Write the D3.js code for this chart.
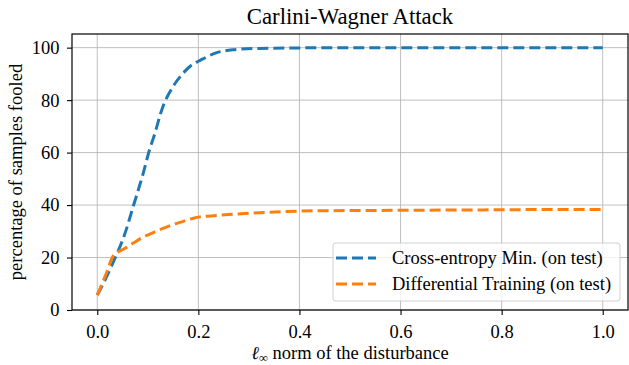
<!DOCTYPE html>
<html>
<head>
<meta charset="utf-8">
<script src="https://cdn.jsdelivr.net/npm/d3@7"></script>
<style>
  body { margin: 0; background: #fff; }
</style>
</head>
<body>
<div id="graf"></div>
<script>
// I. Datos
xVals = [0, 0.018, 0.031, 0.055, 0.071, 0.091, 0.104, 0.111, 0.130, 0.150, 0.170, 0.190, 0.200, 0.235, 0.268, 0.32, 0.40, 0.50, 0.60, 0.70, 0.80, 0.90, 1.00]
crossEntropy = [5.7, 12.5, 18, 29.3, 39.4, 52.2, 61.5, 65.5, 77.6, 85.2, 90.3, 93.8, 94.8, 98, 99.2, 99.7, 99.9, 100, 100, 100, 100, 100, 100]
differential = [5.7, 14, 20.4, 23.5, 25.5, 27.8, 28.9, 29.5, 31.1, 32.6, 33.8, 35, 35.4, 36, 36.5, 37.1, 37.7, 37.9, 38.0, 38.1, 38.2, 38.3, 38.3]
series = [
  { nombre: 'Cross-entropy Min. (on test)', valores: crossEntropy, color: '#1f77b4' },
  { nombre: 'Differential Training (on test)', valores: differential, color: '#ff7f0e' }
]
xTicks = [0.0, 0.2, 0.4, 0.6, 0.8, 1.0]
yTicks = [0, 20, 40, 60, 80, 100]

// II. Configuración
fuente = '"Liberation Serif", "Times New Roman", serif'
tam = '18.5px'
ancho_total = 629
alto_total = 365
margins = { top: 34, left: 72, right: 1, bottom: 55 }
ancho = ancho_total - margins.left - margins.right
alto = alto_total - margins.top - margins.bottom

svg = d3.select('#graf').append('svg')
        .attr('width', ancho_total)
        .attr('height', alto_total)
        .style('font-family', fuente)

g = svg.append('g')
       .attr('transform', `translate(${ margins.left }, ${ margins.top })`)

x = d3.scaleLinear().domain([-0.05, 1.05]).range([0, ancho])
y = d3.scaleLinear().domain([0, 105.2]).range([alto, 0])

// grid
g.append('g').selectAll('line')
  .data(xTicks).join('line')
    .attr('x1', d => x(d)).attr('x2', d => x(d))
    .attr('y1', 0).attr('y2', alto)
    .attr('stroke', '#b0b0b0').attr('stroke-width', 0.8)
g.append('g').selectAll('line')
  .data(yTicks).join('line')
    .attr('y1', d => y(d)).attr('y2', d => y(d))
    .attr('x1', 0).attr('x2', ancho)
    .attr('stroke', '#b0b0b0').attr('stroke-width', 0.8)

// ejes
xAxisGroup = g.append('g')
              .attr('transform', `translate(0, ${ alto })`)
              .call(d3.axisBottom(x).tickValues(xTicks).tickFormat(d3.format('.1f')).tickSize(5).tickSizeOuter(0).tickPadding(9.5))
yAxisGroup = g.append('g')
              .call(d3.axisLeft(y).tickValues(yTicks).tickSize(5).tickSizeOuter(0).tickPadding(7.5))
xAxisGroup.attr('font-family', null).attr('font-size', null)
yAxisGroup.attr('font-family', null).attr('font-size', null)
g.selectAll('.domain').remove()
g.selectAll('.tick line').attr('stroke', '#000').attr('stroke-width', 1.1)
g.selectAll('.tick text')
  .attr('fill', '#000')
  .style('font-family', fuente)
  .style('font-size', tam)

// marco
g.append('rect')
  .attr('width', ancho).attr('height', alto)
  .attr('fill', 'none').attr('stroke', '#000').attr('stroke-width', 1.2)

// líneas
linea = d3.line()
          .x((d, i) => x(xVals[i]))
          .y(d => y(d))
          .curve(d3.curveMonotoneX)

g.selectAll('.serie')
  .data(series).join('path')
    .attr('class', 'serie')
    .attr('d', d => linea(d.valores))
    .attr('fill', 'none')
    .attr('stroke', d => d.color)
    .attr('stroke-width', 3)
    .attr('stroke-dasharray', '11,5')

// títulos
svg.append('text')
   .attr('x', margins.left + ancho / 2)
   .attr('y', 24)
   .attr('text-anchor', 'middle')
   .style('font-size', '22.8px')
   .text('Carlini-Wagner Attack')

xl = svg.append('text')
   .attr('x', margins.left + ancho / 2)
   .attr('y', 359)
   .attr('text-anchor', 'middle')
   .style('font-size', tam)
xl.append('tspan').style('font-style', 'italic').text('ℓ')
xl.append('tspan').attr('dy', 3).style('font-size', '12.5px').text('∞')
xl.append('tspan').attr('dy', -3).text(' norm of the disturbance')

svg.append('text')
   .attr('transform', `translate(22, ${ margins.top + alto / 2 }) rotate(-90)`)
   .attr('text-anchor', 'middle')
   .style('font-size', tam)
   .text('percentage of samples fooled')

// leyenda
leg = g.append('g').attr('transform', `translate(${ 333 - margins.left }, ${ 243 - margins.top })`)
leg.append('rect')
   .attr('width', 287).attr('height', 58).attr('rx', 3)
   .attr('fill', '#fff').attr('fill-opacity', 0.8)
   .attr('stroke', '#d0d0d0').attr('stroke-width', 1)
items = leg.selectAll('.item')
           .data(series).join('g')
             .attr('transform', (d, i) => `translate(0, ${ 15 + i * 26 })`)
items.append('line')
     .attr('x1', 3).attr('x2', 43)
     .attr('stroke', d => d.color).attr('stroke-width', 3)
     .attr('stroke-dasharray', '11,5')
items.append('text')
     .attr('x', 59).attr('y', 6)
     .style('font-size', tam)
     .text(d => d.nombre)
</script>
</body>
</html>
